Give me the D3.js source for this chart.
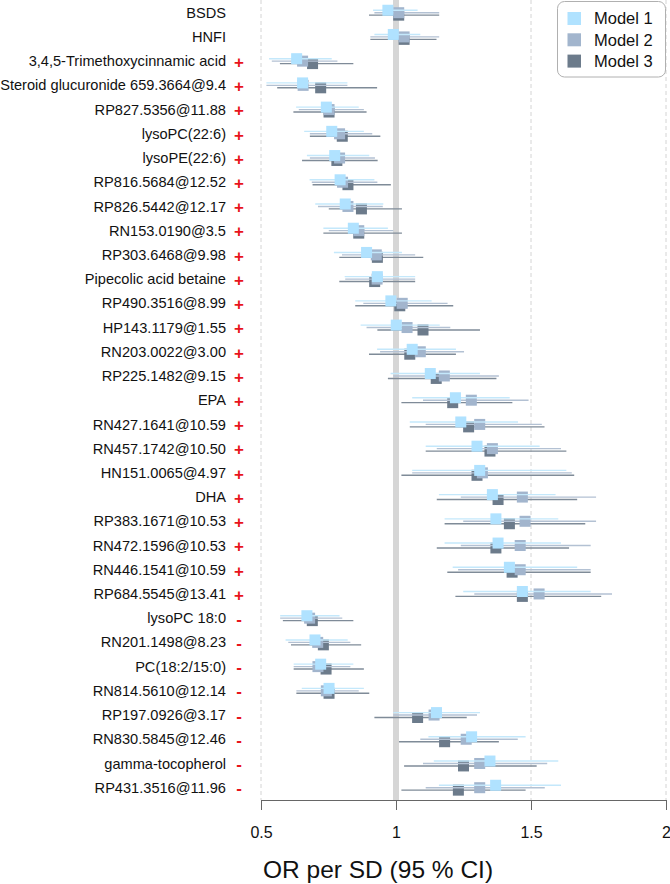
<!DOCTYPE html>
<html><head><meta charset="utf-8">
<script src="https://cdn.jsdelivr.net/npm/d3@7"></script>
<style>
html,body{margin:0;padding:0;background:#fff;}
svg{display:block;font-family:"Liberation Sans",Arial,sans-serif;}
</style></head>
<body><svg id="c" width="670" height="884"></svg>
<script>
const categories = ["BSDS","HNFI","3,4,5-Trimethoxycinnamic acid","Steroid glucuronide 659.3664@9.4","RP827.5356@11.88","lysoPC(22:6)","lysoPE(22:6)","RP816.5684@12.52","RP826.5442@12.17","RN153.0190@3.5","RP303.6468@9.98","Pipecolic acid betaine","RP490.3516@8.99","HP143.1179@1.55","RN203.0022@3.00","RP225.1482@9.15","EPA","RN427.1641@10.59","RN457.1742@10.50","HN151.0065@4.97","DHA","RP383.1671@10.53","RN472.1596@10.53","RN446.1541@10.59","RP684.5545@13.41","lysoPC 18:0","RN201.1498@8.23","PC(18:2/15:0)","RN814.5610@12.14","RP197.0926@3.17","RN830.5845@12.46","gamma-tocopherol","RP431.3516@11.96"];
const signs = ["","","+","+","+","+","+","+","+","+","+","+","+","+","+","+","+","+","+","+","+","+","+","+","+","-","-","-","-","-","-","-","-"];
const models = ["Model 1","Model 2","Model 3"];
const or1 = [0.97,0.99,0.632,0.654,0.742,0.762,0.773,0.793,0.812,0.842,0.891,0.931,0.981,1.001,1.06,1.127,1.22,1.24,1.30,1.31,1.357,1.37,1.378,1.42,1.468,0.67,0.70,0.721,0.752,1.15,1.28,1.348,1.369];
const lo1 = [0.915,0.92,0.53,0.52,0.63,0.66,0.67,0.68,0.701,0.731,0.77,0.81,0.849,0.869,0.93,0.98,1.06,1.051,1.11,1.06,1.159,1.18,1.18,1.21,1.249,0.571,0.591,0.621,0.651,0.99,1.12,1.14,1.159];
const hi1 = [1.08,1.09,0.762,0.82,0.862,0.881,0.901,0.92,0.953,0.97,1.022,1.071,1.132,1.162,1.222,1.311,1.421,1.452,1.532,1.631,1.591,1.601,1.611,1.671,1.721,0.791,0.821,0.842,0.881,1.311,1.48,1.601,1.611];
const or2 = [1.01,1.03,0.654,0.656,0.752,0.791,0.791,0.802,0.822,0.862,0.927,0.93,1.023,1.041,1.09,1.179,1.279,1.31,1.357,1.32,1.468,1.478,1.46,1.46,1.53,0.68,0.71,0.711,0.742,1.141,1.26,1.31,1.31];
const lo2 = [0.92,0.905,0.54,0.52,0.64,0.681,0.681,0.688,0.711,0.751,0.80,0.812,0.879,0.891,0.941,0.99,1.10,1.11,1.151,1.06,1.24,1.249,1.24,1.23,1.29,0.571,0.601,0.621,0.631,0.99,1.09,1.10,1.11];
const hi2 = [1.16,1.16,0.783,0.82,0.881,0.912,0.922,0.931,0.951,0.99,1.071,1.071,1.191,1.201,1.252,1.381,1.491,1.54,1.611,1.651,1.741,1.741,1.721,1.721,1.80,0.801,0.831,0.831,0.862,1.30,1.451,1.56,1.551];
const or3 = [1.01,1.03,0.691,0.721,0.752,0.801,0.781,0.822,0.872,0.862,0.931,0.921,1.014,1.10,1.051,1.149,1.21,1.269,1.348,1.30,1.378,1.42,1.37,1.43,1.468,0.69,0.731,0.741,0.752,1.08,1.18,1.25,1.231];
const lo3 = [0.90,0.905,0.57,0.56,0.62,0.681,0.652,0.691,0.751,0.731,0.79,0.79,0.849,0.931,0.90,0.97,1.02,1.051,1.11,1.02,1.151,1.18,1.151,1.19,1.22,0.581,0.611,0.621,0.631,0.92,1.011,1.03,1.02];
const hi3 = [1.16,1.15,0.842,0.93,0.891,0.942,0.932,0.981,1.022,1.022,1.101,1.071,1.212,1.311,1.222,1.372,1.431,1.55,1.631,1.66,1.671,1.701,1.641,1.721,1.76,0.842,0.871,0.881,0.901,1.262,1.381,1.521,1.48];
const xTicks = [0.5,1,1.5,2];
const xTickLabels = ["0.5","1","1.5","2"];
const xTitle = "OR per SD (95 % CI)";

const colors = ["#B0E2FF","#A2B5CD","#6C7B8B"];
const lineColors = ["#c4e8fb","#b3c1d3","#7f8b98"];
const offsets = [-2.45,0,2.45];
const series = [
  {or:or1,lo:lo1,hi:hi1},
  {or:or2,lo:lo2,hi:hi2},
  {or:or3,lo:lo3,hi:hi3}
];

const svg = d3.select("#c");
const x = d3.scaleLinear().domain([0.5,2]).range([261,666]);
const y = d3.scalePoint().domain(categories).range([12.7,787.7]).padding(0);
const axisY = 800;

svg.append("g").selectAll("line").data([0.5,1.5,2]).join("line")
  .attr("x1",d=>x(d)).attr("x2",d=>x(d)).attr("y1",0).attr("y2",axisY)
  .attr("stroke","#d4d4d4").attr("stroke-width",1).attr("stroke-dasharray","4,3");
svg.append("line").attr("x1",x(1)).attr("x2",x(1)).attr("y1",0).attr("y2",axisY)
  .attr("stroke","#d6d6d6").attr("stroke-width",6);

const sq = 11;
[2,1,0].forEach(m=>{
  const s = series[m];
  const g = svg.append("g");
  const idx = d3.range(categories.length);
  g.selectAll("line").data(idx).join("line")
    .attr("x1",i=>x(s.lo[i])).attr("x2",i=>x(s.hi[i]))
    .attr("y1",i=>y(categories[i])+offsets[m]).attr("y2",i=>y(categories[i])+offsets[m])
    .attr("stroke",lineColors[m]).attr("stroke-width",1.4);
  g.selectAll("rect").data(idx).join("rect")
    .attr("x",i=>x(s.or[i])-sq/2).attr("y",i=>y(categories[i])+offsets[m]-sq/2)
    .attr("width",sq).attr("height",sq).attr("fill",colors[m]);
});

const axis = d3.axisBottom(x).tickValues(xTicks).tickFormat((d,i)=>xTickLabels[i]).tickSize(10).tickSizeOuter(0);
const ag = svg.append("g").attr("transform",`translate(0,${axisY})`).call(axis);
ag.select(".domain").attr("stroke","#666");
ag.selectAll(".tick line").attr("stroke","#666");
ag.selectAll(".tick text").attr("font-size",16).attr("fill","#111").attr("dy","1.55em").attr("font-family","Liberation Sans, Arial, sans-serif");

svg.append("text").attr("x",263).attr("y",878).attr("font-size",24.5).attr("fill","#111").text(xTitle);

svg.append("g").selectAll("text").data(categories).join("text")
  .attr("x",226).attr("y",d=>y(d)).attr("dy","0.35em").attr("text-anchor","end")
  .attr("font-size",14.6).attr("fill","#111").text(d=>d);
svg.append("g").selectAll("text").data(categories.map((c,i)=>({c,s:signs[i]})).filter(d=>d.s)).join("text")
  .attr("x",239).attr("y",d=>y(d.c)).attr("dy",d=>d.s==="+"?"0.4em":"0.38em").attr("text-anchor","middle")
  .attr("font-size",17).attr("font-weight","bold").attr("fill","#e8141c").text(d=>d.s);

const lg = svg.append("g");
lg.append("rect").attr("x",557.5).attr("y",1.5).attr("width",108).attr("height",75.5).attr("rx",7)
  .attr("fill","#fff").attr("stroke","#b0b0b0").attr("stroke-width",1);
models.forEach((mname,i)=>{
  const cy = 18.5 + i*21.3;
  lg.append("rect").attr("x",567.5).attr("y",cy-6.5).attr("width",13.5).attr("height",13).attr("fill",colors[i]);
  lg.append("text").attr("x",594).attr("y",cy).attr("dy","0.36em").attr("font-size",16.5).attr("fill","#111").text(mname);
});
</script></body></html>
